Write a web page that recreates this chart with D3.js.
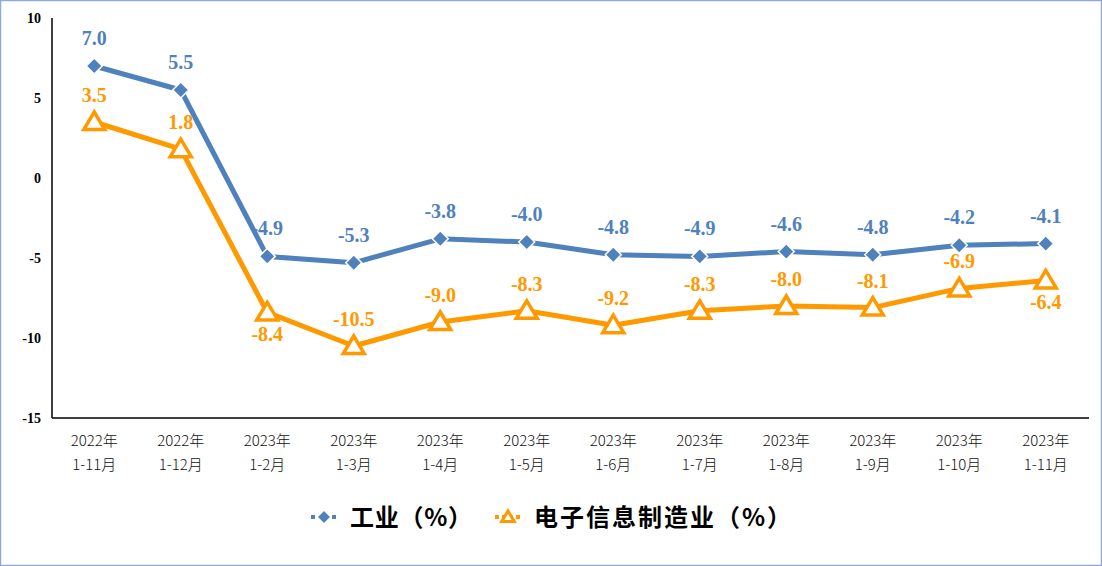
<!DOCTYPE html>
<html><head><meta charset="utf-8">
<script src="https://cdn.jsdelivr.net/npm/d3@7"></script>
<style>body{margin:0;background:#fff}svg{display:block}</style>
</head><body>
<script>
const categories = ["2022年|1-11月","2022年|1-12月","2023年|1-2月","2023年|1-3月","2023年|1-4月","2023年|1-5月","2023年|1-6月","2023年|1-7月","2023年|1-8月","2023年|1-9月","2023年|1-10月","2023年|1-11月"];
const industry = [7.0,5.5,-4.9,-5.3,-3.8,-4.0,-4.8,-4.9,-4.6,-4.8,-4.2,-4.1];
const electronics = [3.5,1.8,-8.4,-10.5,-9.0,-8.3,-9.2,-8.3,-8.0,-8.1,-6.9,-6.4];
const elecLabelBelow = [false,false,true,false,false,false,false,false,false,false,false,true];
const yTicks = [10,5,0,-5,-10,-15];
const seriesNames = ["工业（%）","电子信息制造业（%）"];

const W=1102,H=566;
const svg=d3.select("body").append("svg").attr("width",W).attr("height",H);
svg.append("rect").attr("x",0.5).attr("y",0.5).attr("width",W-1).attr("height",H-1).attr("fill","#fff").attr("stroke","#8eaadb").attr("stroke-width",1.5);

const x=d3.scaleBand().domain(categories).range([51,1089]);
const y=d3.scaleLinear().domain([-15,10]).range([418,18]);
const blue="#4f81bd", orange="#ff9900";

svg.append("line").attr("x1",52).attr("x2",52).attr("y1",18).attr("y2",418).attr("stroke","#000").attr("stroke-width",1.5);
svg.append("line").attr("x1",52).attr("x2",1089).attr("y1",418).attr("y2",418).attr("stroke","#000").attr("stroke-width",1.5);

const yAxis=d3.axisLeft(y).tickValues(yTicks).tickSize(0).tickPadding(0).tickFormat(d=>d);
const gy=svg.append("g").attr("transform","translate(41,0)").call(yAxis);
gy.select(".domain").remove();
gy.selectAll("text").attr("font-family","Liberation Serif").attr("font-weight","bold").attr("font-size",14).attr("fill","#000");

const xAxis=d3.axisBottom(x).tickSize(0).tickFormat("");
const gx=svg.append("g").attr("transform","translate(0,418)").call(xAxis);
gx.select(".domain").remove();
gx.selectAll(".tick").each(function(d){
  const parts=d.split("|");
  const t=d3.select(this).append("text").attr("fill","#111").attr("font-family","Noto Sans CJK SC").attr("font-weight",300).attr("font-size",15).attr("text-anchor","middle");
  t.append("tspan").attr("x",0).attr("y",28).text(parts[0]);
  t.append("tspan").attr("x",0).attr("y",52).text(parts[1]);
});

const cx=i=>x(categories[i])+x.bandwidth()/2;
const line=d3.line().x((d,i)=>cx(i)).y(d=>y(d));

svg.append("path").datum(electronics).attr("d",line).attr("fill","none").attr("stroke",orange).attr("stroke-width",5).attr("stroke-linejoin","round");
svg.append("path").datum(industry).attr("d",line).attr("fill","none").attr("stroke",blue).attr("stroke-width",5).attr("stroke-linejoin","round");

function diamondPath(s){return `M0,${-s}L${s},0L0,${s}L${-s},0Z`;}
function triPath(s){return `M0,${-s}L${s*1.05},${s*0.75}L${-s*1.05},${s*0.75}Z`;}

svg.append("g").selectAll("path").data(electronics).join("path")
  .attr("transform",(d,i)=>`translate(${cx(i)},${y(d)})`)
  .attr("d",triPath(10)).attr("fill","#fff").attr("stroke",orange).attr("stroke-width",3.5).attr("stroke-linejoin","miter");
svg.append("g").selectAll("path").data(industry).join("path")
  .attr("transform",(d,i)=>`translate(${cx(i)},${y(d)})`)
  .attr("d",diamondPath(8)).attr("fill",blue).attr("stroke","#fff").attr("stroke-width",1.5);

const lblFont={"font-family":"Liberation Serif","font-weight":"bold","font-size":20};
function applyFont(sel){for(const k in lblFont) sel.attr(k,lblFont[k]);return sel;}
applyFont(svg.append("g").selectAll("text").data(industry).join("text")
  .attr("x",(d,i)=>cx(i)).attr("y",d=>y(d)-21).attr("text-anchor","middle").attr("fill",blue).text(d=>d.toFixed(1)));
applyFont(svg.append("g").selectAll("text").data(electronics).join("text")
  .attr("x",(d,i)=>cx(i)).attr("y",(d,i)=>elecLabelBelow[i]?y(d)+29:y(d)-20).attr("text-anchor","middle").attr("fill",orange).text(d=>d.toFixed(1)));

const lg=svg.append("g");
const legendItems=[{name:seriesNames[0],color:blue,x:324,type:"d",w:122},{name:seriesNames[1],color:orange,x:508,type:"t",w:257}];
legendItems.forEach(it=>{
  const ly=517;
  lg.append("line").attr("x1",it.x-13).attr("x2",it.x+13).attr("y1",ly).attr("y2",ly).attr("stroke",it.color).attr("stroke-width",4).attr("stroke-dasharray","4,3");
  if(it.type==="d") lg.append("path").attr("transform",`translate(${it.x},${ly})`).attr("d",diamondPath(7)).attr("fill",it.color).attr("stroke","#fff").attr("stroke-width",1.5);
  else lg.append("path").attr("transform",`translate(${it.x},${ly})`).attr("d",triPath(6)).attr("fill","#fff").attr("stroke",it.color).attr("stroke-width",3);
  lg.append("text").attr("x",it.x+26).attr("y",ly+9).attr("font-family","Noto Sans CJK SC").attr("font-weight","bold").attr("font-size",24)
    .attr("textLength",it.w).attr("lengthAdjust","spacing").attr("fill","#000").text(it.name);
});
</script>
</body></html>
